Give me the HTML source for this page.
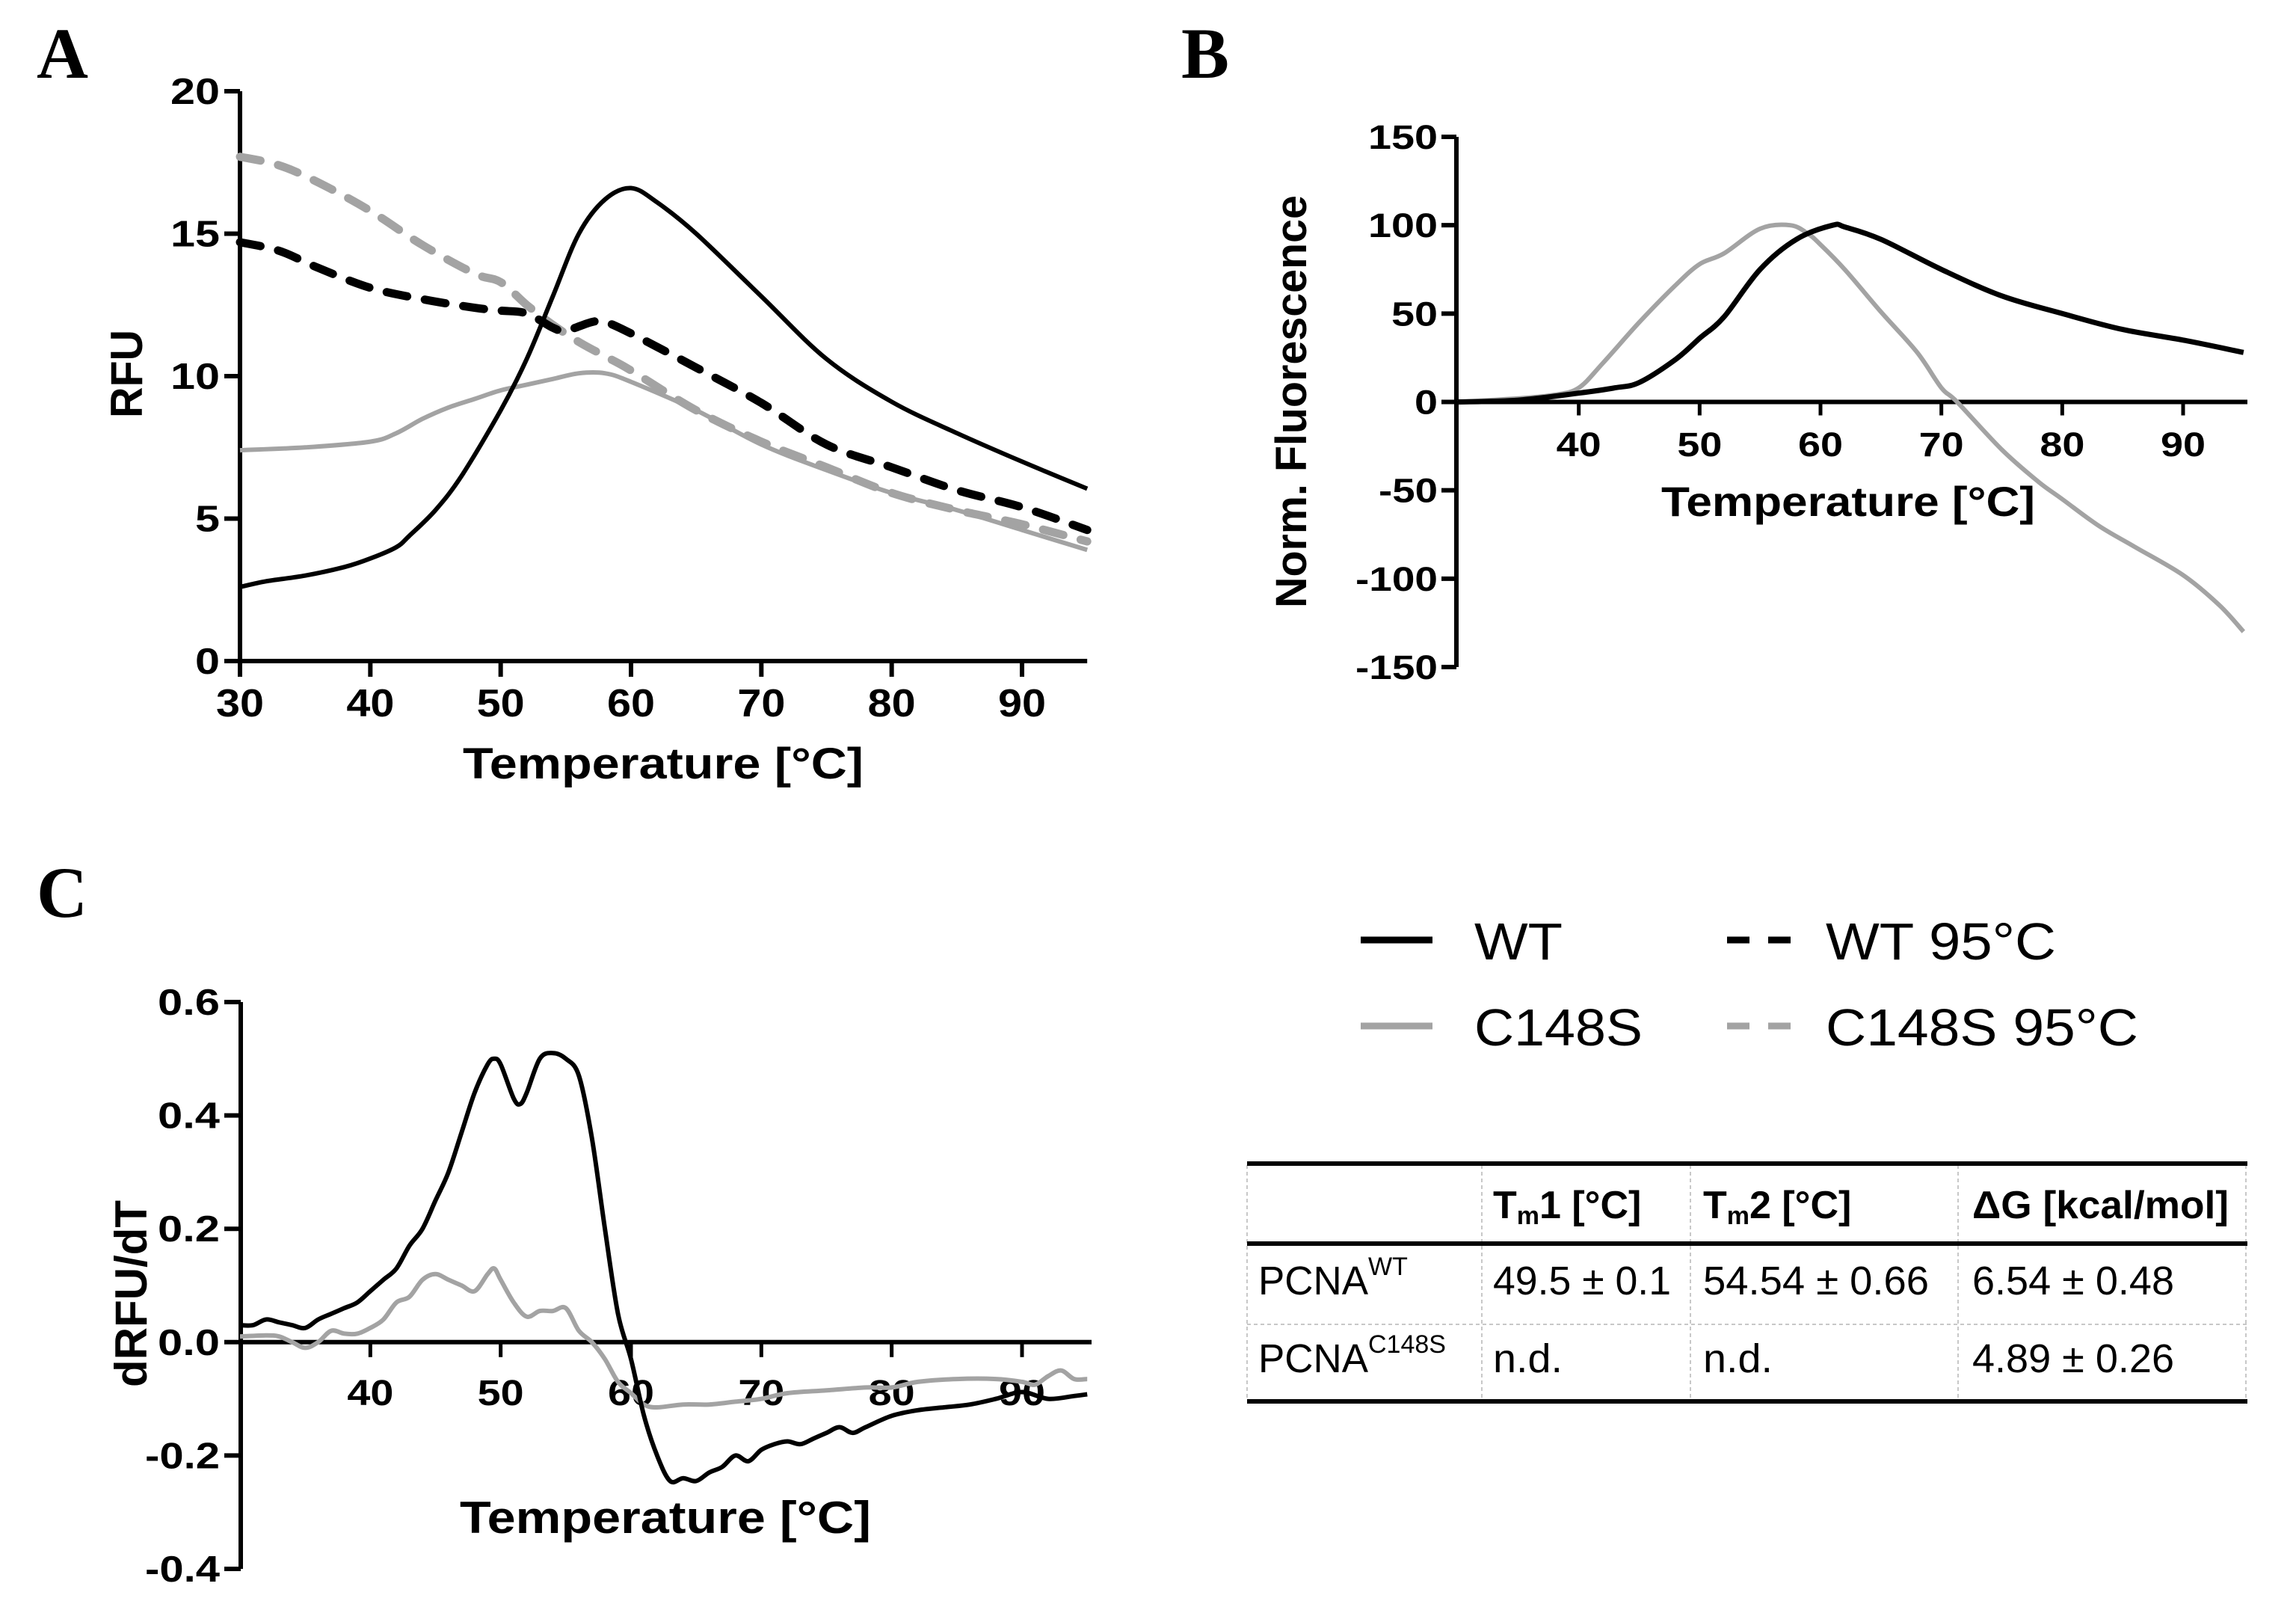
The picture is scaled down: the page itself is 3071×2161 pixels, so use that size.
<!DOCTYPE html>
<html><head><meta charset="utf-8">
<style>
html,body{margin:0;padding:0;background:#fff;overflow:hidden;}
svg{display:block;}
text{font-family:"Liberation Sans",Arial,sans-serif;}
.b{font-weight:bold;}
.letter{font-family:"Liberation Serif","Times New Roman",serif;font-weight:bold;}
</style></head>
<body>
<svg id="fig" width="3071" height="2161" viewBox="0 0 3071 2161" xmlns="http://www.w3.org/2000/svg">
<rect width="3071" height="2161" fill="#fff"/>
<text class="letter" x="49" y="104" font-size="96" textLength="69" lengthAdjust="spacingAndGlyphs">A</text>
<text class="letter" x="1580" y="104" font-size="96" textLength="64" lengthAdjust="spacingAndGlyphs">B</text>
<text class="letter" x="49" y="1226" font-size="96" textLength="68" lengthAdjust="spacingAndGlyphs">C</text>
<g id="pa"></g>
<g id="pb"></g>
<g id="pc"></g>

<g>
  <line x1="1820" y1="1257" x2="1916" y2="1257" stroke="#000" stroke-width="9"/>
  <text x="1972" y="1283" font-size="70" textLength="118" lengthAdjust="spacingAndGlyphs">WT</text>
  <line x1="2310" y1="1257" x2="2396" y2="1257" stroke="#000" stroke-width="9" stroke-dasharray="30,25"/>
  <text x="2442" y="1283" font-size="70" textLength="308" lengthAdjust="spacingAndGlyphs">WT 95°C</text>
  <line x1="1820" y1="1372" x2="1916" y2="1372" stroke="#a3a3a3" stroke-width="9"/>
  <text x="1972" y="1398" font-size="70" textLength="225" lengthAdjust="spacingAndGlyphs">C148S</text>
  <line x1="2310" y1="1372" x2="2396" y2="1372" stroke="#a3a3a3" stroke-width="9" stroke-dasharray="30,25"/>
  <text x="2442" y="1398" font-size="70" textLength="418" lengthAdjust="spacingAndGlyphs">C148S 95°C</text>
</g>

<g>
  <g stroke="#c8c8c8" stroke-width="2" stroke-dasharray="5,4">
    <line x1="1982" y1="1558" x2="1982" y2="1872"/>
    <line x1="2261" y1="1558" x2="2261" y2="1872"/>
    <line x1="2619" y1="1558" x2="2619" y2="1872"/>
    <line x1="3004" y1="1558" x2="3004" y2="1872"/>
    <line x1="1668" y1="1558" x2="1668" y2="1872"/>
    <line x1="1668" y1="1771" x2="3006" y2="1771"/>
  </g>
  <line x1="1668" y1="1556" x2="3006" y2="1556" stroke="#000" stroke-width="6"/>
  <line x1="1668" y1="1663" x2="3006" y2="1663" stroke="#000" stroke-width="6"/>
  <line x1="1668" y1="1874" x2="3006" y2="1874" stroke="#000" stroke-width="6"/>
  <text class="b" x="1997" y="1629" font-size="52">T<tspan font-size="34" dy="8">m</tspan><tspan dy="-8">1 [°C]</tspan></text>
  <text class="b" x="2278" y="1629" font-size="52">T<tspan font-size="34" dy="8">m</tspan><tspan dy="-8">2 [°C]</tspan></text>
  <text class="b" x="2638" y="1629" font-size="52" textLength="343" lengthAdjust="spacingAndGlyphs">ΔG [kcal/mol]</text>
  <text x="1683" y="1731" font-size="54"><tspan textLength="147" lengthAdjust="spacingAndGlyphs">PCNA</tspan><tspan font-size="34" dy="-26">WT</tspan></text>
  <text x="1997" y="1731" font-size="54" textLength="238" lengthAdjust="spacingAndGlyphs">49.5 ± 0.1</text>
  <text x="2278" y="1731" font-size="54" textLength="302" lengthAdjust="spacingAndGlyphs">54.54 ± 0.66</text>
  <text x="2638" y="1731" font-size="54" textLength="270" lengthAdjust="spacingAndGlyphs">6.54 ± 0.48</text>
  <text x="1683" y="1835" font-size="54"><tspan textLength="147" lengthAdjust="spacingAndGlyphs">PCNA</tspan><tspan font-size="34" dy="-26">C148S</tspan></text>
  <text x="1997" y="1835" font-size="54" textLength="93" lengthAdjust="spacingAndGlyphs">n.d.</text>
  <text x="2278" y="1835" font-size="54" textLength="93" lengthAdjust="spacingAndGlyphs">n.d.</text>
  <text x="2638" y="1835" font-size="54" textLength="270" lengthAdjust="spacingAndGlyphs">4.89 ± 0.26</text>
</g>
</svg>
<script>
// ---- Panel A data (RFU) ----
const aWtT = [30,32,35,38,40,42,43,45,47,50,52,54,56,58,60,62,65,70,75,80,85,90,95];
const aWtV = [2.6,2.8,3.0,3.3,3.6,4.0,4.4,5.3,6.5,8.8,10.6,12.8,15.0,16.2,16.6,16.1,15.0,12.8,10.6,9.1,8.0,7.0,6.05];
const aWt95T = [30,33,36,40,44,48,50,52,54,55,57,58,60,65,70,75,80,85,90,95];
const aWt95V = [14.7,14.4,13.8,13.1,12.7,12.4,12.3,12.2,11.7,11.6,11.9,11.9,11.5,10.3,9.06,7.6,6.8,6.0,5.4,4.6];
const aCsT = [30,35,40,42,44,46,48,50,52,54,56,58,60,65,70,75,80,85,90,95];
const aCsV = [7.4,7.5,7.7,8.0,8.5,8.9,9.2,9.5,9.7,9.9,10.1,10.1,9.8,8.8,7.6,6.7,5.9,5.3,4.6,3.9];
const aCs95T = [30,33,36,40,44,48,50,52,54,56,58,60,65,70,75,80,85,90,95];
const aCs95V = [17.7,17.4,16.8,15.8,14.6,13.6,13.3,12.5,11.8,11.2,10.7,10.2,8.8,7.7,6.8,5.9,5.3,4.8,4.2];
const aXTicks = [30,40,50,60,70,80,90];
const aYTicks = [0,5,10,15,20];
// ---- Panel B data (Norm. Fluorescence) ----
const bWtT = [30,35,40,43,45,48,50,52,55,58,61,62,65,70,75,80,85,90,95];
const bWtV = [0,1,5,8,11,24,36,48,75,92,100,99,92,75,60,50,41,35,28];
const bCsT = [30,35,38,40,42,45,48,50,52,55,57.5,59,60,62,65,68,70,71.3,75,78,80,83,86,90,93,95];
const bCsV = [0,2,4,8,22,45,66,78,84,98,100,95,89,75,51,28,8,0,-27,-45,-55,-70,-82,-98,-115,-130];
const bXTicks = [40,50,60,70,80,90];
const bYTicks = [-150,-100,-50,0,50,100,150];
// ---- Panel C data (dRFU/dT) ----
const cWtT = [30,31,32,33,34,35,36,37,38,39,40,41,42,43,44,45,46,47,48,49,49.5,50,51,51.5,52,53,54,55,56,57,58,59,60,61,62,63,64,65,66,67,68,69,70,71,72,73,74,75,76,77,78,80,82,84,86,88,90,92,94,95];
const cWtV = [0.03,0.03,0.04,0.035,0.03,0.025,0.04,0.05,0.06,0.07,0.09,0.11,0.13,0.17,0.2,0.25,0.3,0.37,0.44,0.49,0.5,0.49,0.43,0.42,0.44,0.5,0.51,0.5,0.47,0.36,0.2,0.05,-0.03,-0.13,-0.2,-0.245,-0.24,-0.245,-0.23,-0.22,-0.2,-0.21,-0.19,-0.18,-0.175,-0.18,-0.17,-0.16,-0.15,-0.16,-0.15,-0.13,-0.12,-0.115,-0.11,-0.1,-0.088,-0.1,-0.095,-0.092];
const cCsT = [30,32,33,34,35,36,37,38,39,40,41,42,43,44,45,46,47,48,49,49.5,50,51,52,53,54,55,56,57,58,59,60,61,62,64,66,68,70,72,75,78,80,82,85,88,90,91,92,93,94,95];
const cCsV = [0.01,0.012,0.01,0.0,-0.01,0.0,0.02,0.015,0.015,0.025,0.04,0.07,0.08,0.11,0.12,0.11,0.1,0.09,0.12,0.13,0.11,0.07,0.045,0.055,0.055,0.06,0.02,0.0,-0.03,-0.07,-0.09,-0.11,-0.115,-0.11,-0.11,-0.105,-0.1,-0.09,-0.085,-0.08,-0.08,-0.07,-0.065,-0.065,-0.07,-0.075,-0.06,-0.05,-0.065,-0.065];
const cXTicks = [40,50,60,70,80,90];
const cYTicks = [-0.4,-0.2,0.0,0.2,0.4,0.6];

const NS = 'http://www.w3.org/2000/svg';
function mk(tag, parent, attrs) {
  const e = document.createElementNS(NS, tag);
  for (const k in attrs) e.setAttribute(k, attrs[k]);
  parent.appendChild(e);
  return e;
}
function scale(d0, d1, p0, p1) { return v => p0 + (v - d0) * (p1 - p0) / (d1 - d0); }
function smoothPath(P) {
  let d = 'M' + P[0][0].toFixed(1) + ',' + P[0][1].toFixed(1);
  for (let i = 0; i < P.length - 1; i++) {
    const p0 = P[i - 1] || P[i], p1 = P[i], p2 = P[i + 1], p3 = P[i + 2] || P[i + 1];
    const c1x = p1[0] + (p2[0] - p0[0]) / 6, c1y = p1[1] + (p2[1] - p0[1]) / 6;
    const c2x = p2[0] - (p3[0] - p1[0]) / 6, c2y = p2[1] - (p3[1] - p1[1]) / 6;
    d += ' C' + c1x.toFixed(1) + ',' + c1y.toFixed(1) + ' ' + c2x.toFixed(1) + ',' + c2y.toFixed(1) + ' ' + p2[0].toFixed(1) + ',' + p2[1].toFixed(1);
  }
  return d;
}
function drawLine(g, T, V, sx, sy, color, width, dash, name) {
  const P = T.map((t, i) => [sx(t), sy(V[i])]);
  const pl = mk('path', g, {d: smoothPath(P), fill: 'none', stroke: color, 'stroke-width': width, 'stroke-linejoin': 'round', 'stroke-linecap': dash ? 'round' : 'butt'});
  if (dash) pl.setAttribute('stroke-dasharray', dash);
  
  
}

// Panel A
(function(){
  const g = document.getElementById('pa');
  const sx = scale(30, 90, 321, 1367), sy = scale(0, 20, 884, 122);
  const ax = mk('path', g, {d: `M321,${sy(20)} V884 H${sx(95)}`, fill:'none', stroke:'#000', 'stroke-width':6});
  
  
  aYTicks.forEach(v => {
    const tk = mk('line', g, {x1:300, x2:321, y1:sy(v), y2:sy(v), stroke:'#000', 'stroke-width':6});
    
    
    const s = String(v);
    const t = mk('text', g, {x:294, y:sy(v)+17, 'font-size':49, 'text-anchor':'end', class:'b', textLength: 33*s.length, lengthAdjust:'spacingAndGlyphs'});
    t.textContent = s;
    
    
  });
  aXTicks.forEach(v => {
    const tk = mk('line', g, {x1:sx(v), x2:sx(v), y1:884, y2:905, stroke:'#000', 'stroke-width':6});
    
    
    const t = mk('text', g, {x:sx(v), y:958, 'font-size':52, 'text-anchor':'middle', class:'b', textLength:64, lengthAdjust:'spacingAndGlyphs'});
    t.textContent = String(v);
    
    
  });
  const xt = mk('text', g, {x:887, y:1041, 'font-size':58, 'text-anchor':'middle', class:'b', textLength:536, lengthAdjust:'spacingAndGlyphs'});
  xt.textContent = 'Temperature [°C]';
  
  
  const yt = mk('text', g, {x:0, y:0, 'font-size':60, 'text-anchor':'middle', class:'b', textLength:118, lengthAdjust:'spacingAndGlyphs', transform:'translate(190,500) rotate(-90)'});
  yt.textContent = 'RFU';
  
  
  drawLine(g, aCsT, aCsV, sx, sy, '#a3a3a3', 6, null, 'line-c148s');
  drawLine(g, aCs95T, aCs95V, sx, sy, '#a3a3a3', 11, '28,24', 'line-c148s-95');
  drawLine(g, aWt95T, aWt95V, sx, sy, '#000', 11, '28,24', 'line-wt-95');
  drawLine(g, aWtT, aWtV, sx, sy, '#000', 6, null, 'line-wt');
})();

// Panel B
(function(){
  const g = document.getElementById('pb');
  const sx = scale(30, 90, 1950, 2920), sy = scale(-150, 150, 892, 183);
  const ax = mk('path', g, {d: `M1948,183 V892 M1948,${sy(0)} H3006`, fill:'none', stroke:'#000', 'stroke-width':6});
  
  
  bYTicks.forEach(v => {
    const tk = mk('line', g, {x1:1928, x2:1948, y1:sy(v), y2:sy(v), stroke:'#000', 'stroke-width':6});
    
    
    const s = String(v);
    const w = (s.replace('-', '').length * 31) + (v < 0 ? 17 : 0);
    const t = mk('text', g, {x:1923, y:sy(v)+16, 'font-size':45, 'text-anchor':'end', class:'b', textLength:w, lengthAdjust:'spacingAndGlyphs'});
    t.textContent = s;
    
    
  });
  bXTicks.forEach(v => {
    const tk = mk('line', g, {x1:sx(v), x2:sx(v), y1:sy(0), y2:sy(0)+18, stroke:'#000', 'stroke-width':5});
    
    
    const t = mk('text', g, {x:sx(v), y:610, 'font-size':45, 'text-anchor':'middle', class:'b', textLength:60, lengthAdjust:'spacingAndGlyphs'});
    t.textContent = String(v);
    
    
  });
  const xt = mk('text', g, {x:2472, y:690, 'font-size':56, 'text-anchor':'middle', class:'b', textLength:500, lengthAdjust:'spacingAndGlyphs'});
  xt.textContent = 'Temperature [°C]';
  
  
  const yt = mk('text', g, {x:0, y:0, 'font-size':58, 'text-anchor':'middle', class:'b', textLength:552, lengthAdjust:'spacingAndGlyphs', transform:'translate(1747,537) rotate(-90)'});
  yt.textContent = 'Norm. Fluorescence';
  
  
  drawLine(g, bCsT, bCsV, sx, sy, '#a3a3a3', 6, null, 'line-c148s');
  drawLine(g, bWtT, bWtV, sx, sy, '#000', 7, null, 'line-wt');
})();

// Panel C
(function(){
  const g = document.getElementById('pc');
  const sx = scale(30, 90, 321, 1367), sy = scale(-0.4, 0.6, 2098, 1340);
  const ax = mk('path', g, {d: `M322,1340 V2098 M322,${sy(0)} H1460`, fill:'none', stroke:'#000', 'stroke-width':6});
  
  
  cYTicks.forEach(v => {
    const tk = mk('line', g, {x1:300, x2:322, y1:sy(v), y2:sy(v), stroke:'#000', 'stroke-width':6});
    
    
    const s = v.toFixed(1);
    const t = mk('text', g, {x:294, y:sy(v)+17, 'font-size':49, 'text-anchor':'end', class:'b', textLength: v < 0 ? 100 : 83, lengthAdjust:'spacingAndGlyphs'});
    t.textContent = s;
    
    
  });
  cXTicks.forEach(v => {
    const tk = mk('line', g, {x1:sx(v), x2:sx(v), y1:sy(0), y2:sy(0)+20, stroke:'#000', 'stroke-width':5});
    
    
    const t = mk('text', g, {x:sx(v), y:1879, 'font-size':48, 'text-anchor':'middle', class:'b', textLength:62, lengthAdjust:'spacingAndGlyphs'});
    t.textContent = String(v);
    
    
  });
  const xt = mk('text', g, {x:890, y:2050, 'font-size':60, 'text-anchor':'middle', class:'b', textLength:550, lengthAdjust:'spacingAndGlyphs'});
  xt.textContent = 'Temperature [°C]';
  
  
  const yt = mk('text', g, {x:0, y:0, 'font-size':60, 'text-anchor':'middle', class:'b', textLength:250, lengthAdjust:'spacingAndGlyphs', transform:'translate(196,1730) rotate(-90)'});
  yt.textContent = 'dRFU/dT';
  
  
  drawLine(g, cCsT, cCsV, sx, sy, '#a3a3a3', 6, null, 'line-c148s');
  drawLine(g, cWtT, cWtV, sx, sy, '#000', 6, null, 'line-wt');
})();
</script>
</body></html>
